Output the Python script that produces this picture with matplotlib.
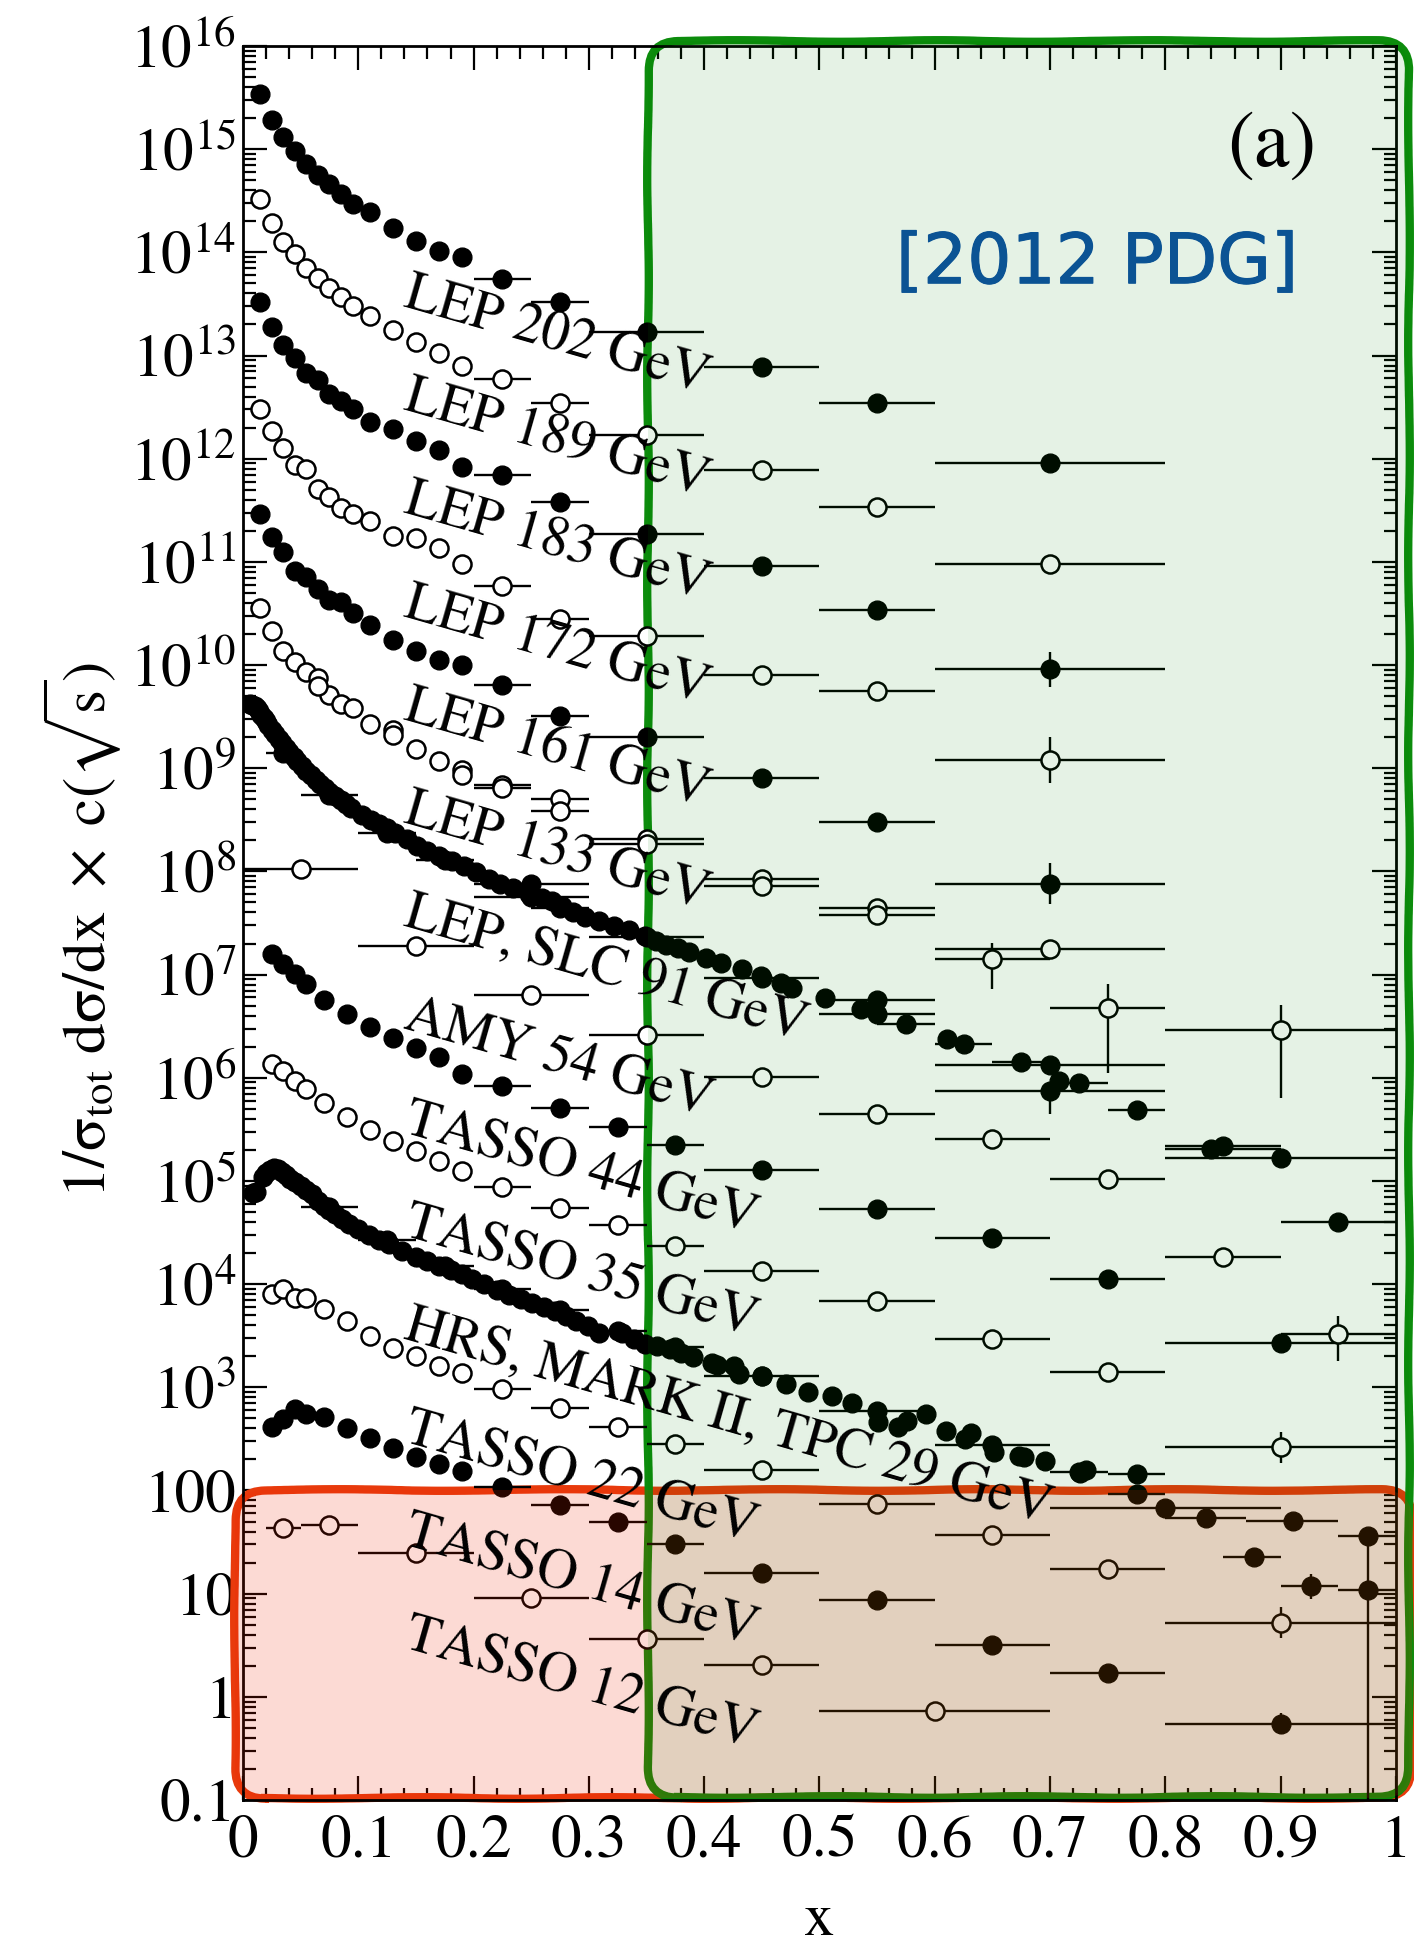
import numpy as np
import matplotlib
matplotlib.use('Agg')
import matplotlib.pyplot as plt
import matplotlib.patheffects as pe
from matplotlib.patches import FancyBboxPatch
from matplotlib.ticker import FixedLocator, FuncFormatter, MultipleLocator, LogLocator, NullFormatter

plt.rcParams['font.family'] = 'STIXGeneral'
plt.rcParams['mathtext.fontset'] = 'stix'

# all y values are log10 of 1/sigma dsigma/dx * c(sqrt s)

# LEP high energy runs: fine bins below x=0.2, then wide bins
x_lep = [0.015, 0.025, 0.035, 0.045, 0.055, 0.065, 0.075, 0.085, 0.095, 0.11, 0.13, 0.15, 0.17, 0.19]
x_lep_bin = [0.225, 0.275, 0.35, 0.45, 0.55, 0.7]
lep_bin_lo = [0.2, 0.25, 0.3, 0.4, 0.5, 0.6]
lep_bin_hi = [0.25, 0.3, 0.4, 0.5, 0.6, 0.8]

lep202 = [15.53, 15.28, 15.12, 14.98, 14.86, 14.75, 14.66, 14.57, 14.47, 14.39, 14.24, 14.11, 14.01, 13.95]
lep202_bin = [13.74, 13.52, 13.23, 12.89, 12.54, 11.96]
lep202_err = [0, 0, 0, 0, 0, 0.04]

lep189 = [14.52, 14.28, 14.10, 13.98, 13.85, 13.75, 13.65, 13.57, 13.48, 13.38, 13.25, 13.13, 13.02, 12.90]
lep189_bin = [12.77, 12.54, 12.23, 11.89, 11.53, 10.98]
lep189_err = [0, 0, 0, 0, 0, 0.04]

lep183 = [13.52, 13.28, 13.10, 12.98, 12.83, 12.76, 12.63, 12.56, 12.48, 12.36, 12.29, 12.17, 12.08, 11.92]
lep183_bin = [11.84, 11.58, 11.27, 10.96, 10.53, 9.96]
lep183_err = [0, 0, 0, 0, 0.04, 0.17]

lep172 = [12.48, 12.27, 12.10, 11.94, 11.90, 11.71, 11.63, 11.52, 11.46, 11.40, 11.25, 11.23, 11.13, 10.98]
lep172_bin = [10.77, 10.45, 10.28, 9.90, 9.75, 9.08]
lep172_err = [0, 0, 0, 0.05, 0.05, 0.22]

lep161 = [11.46, 11.24, 11.10, 10.91, 10.85, 10.74, 10.63, 10.61, 10.50, 10.39, 10.24, 10.14, 10.05, 10.00]
lep161_bin = [9.81, 9.51, 9.30, 8.91, 8.48, 7.88]
lep161_err = [0, 0, 0, 0, 0.05, 0.2]

lep133 = [10.55, 10.33, 10.14, 10.03, 9.93, 9.87, 9.71, 9.62, 9.58, 9.43, 9.37, 9.19, 9.07, 8.98]
lep133_bin = [8.84, 8.70, 8.31, 7.93, 7.65, 7.25]
lep133_err = [0, 0, 0, 0, 0.04, 0.04]

# second 133 GeV data set
x_lep133b = [0.065, 0.13, 0.19]
lep133b = [9.80, 9.32, 8.93]
x_lep133b_bin = [0.225, 0.275, 0.35, 0.45, 0.55, 0.65, 0.75, 0.9]
lep133b_lo = [0.2, 0.25, 0.3, 0.4, 0.5, 0.6, 0.7, 0.8]
lep133b_hi = [0.25, 0.3, 0.4, 0.5, 0.6, 0.7, 0.8, 1.0]
lep133b_bin = [8.81, 8.59, 8.27, 7.86, 7.58, 7.15, 6.68, 6.46]
lep133b_dn = [0, 0, 0, 0, 0.05, 0.29, 0.63, 0.66]
lep133b_up = [0, 0, 0, 0, 0.05, 0.16, 0.23, 0.25]

# LEP, SLC 91 GeV
x_lep91 = [0.006, 0.008, 0.010, 0.012, 0.014, 0.016, 0.018, 0.020, 0.022, 0.025, 0.028, 0.031,
           0.034, 0.037, 0.040, 0.044, 0.047, 0.051, 0.055, 0.059, 0.063, 0.067, 0.071, 0.075,
           0.080, 0.085, 0.089, 0.094, 0.103, 0.111, 0.118, 0.125, 0.132, 0.142, 0.151, 0.160,
           0.170, 0.181, 0.192, 0.202, 0.213, 0.223, 0.234, 0.248, 0.259, 0.268, 0.277, 0.286,
           0.297, 0.309, 0.322, 0.335, 0.349, 0.358, 0.367, 0.377, 0.387, 0.402, 0.415, 0.433,
           0.449, 0.467, 0.476, 0.505, 0.536, 0.611, 0.708]
lep91 = [9.62, 9.61, 9.60, 9.58, 9.55, 9.52, 9.49, 9.46, 9.42, 9.37, 9.33, 9.28,
         9.24, 9.20, 9.16, 9.11, 9.07, 9.02, 8.97, 8.93, 8.89, 8.85, 8.81, 8.77,
         8.73, 8.69, 8.65, 8.61, 8.55, 8.50, 8.46, 8.42, 8.37, 8.31, 8.25, 8.20,
         8.15, 8.10, 8.05, 7.99, 7.93, 7.88, 7.84, 7.78, 7.74, 7.71, 7.66, 7.61,
         7.56, 7.52, 7.47, 7.43, 7.37, 7.33, 7.29, 7.26, 7.22, 7.16, 7.11, 7.05,
         6.99, 6.92, 6.87, 6.77, 6.67, 6.38, 5.97]
x_lep91_bin = [0.035, 0.075, 0.125, 0.175, 0.25, 0.25, 0.275, 0.35, 0.45, 0.55, 0.55, 0.575,
               0.625, 0.675, 0.7, 0.7, 0.725, 0.775, 0.84, 0.85, 0.9, 0.95]
lep91_lo = [0.02, 0.05, 0.1, 0.15, 0.2, 0.2, 0.25, 0.3, 0.4, 0.5, 0.5, 0.55,
            0.6, 0.65, 0.6, 0.6, 0.7, 0.75, 0.8, 0.8, 0.8, 0.9]
lep91_hi = [0.05, 0.1, 0.15, 0.2, 0.3, 0.3, 0.3, 0.4, 0.5, 0.6, 0.6, 0.6,
            0.65, 0.7, 0.8, 0.8, 0.75, 0.8, 0.9, 0.9, 1.0, 1.0]
lep91_bin = [9.15, 8.74, 8.37, 8.11, 7.88, 7.75, 7.65, 7.36, 6.97, 6.75, 6.62, 6.52,
             6.33, 6.15, 6.12, 5.87, 5.95, 5.69, 5.31, 5.34, 5.22, 4.60]
lep91_dn = [0, 0, 0, 0, 0, 0, 0, 0, 0, 0.03, 0, 0, 0, 0, 0.06, 0.22, 0, 0, 0, 0, 0.04, 0.03]
lep91_up = [0, 0, 0, 0, 0, 0, 0, 0, 0, 0.06, 0, 0, 0, 0, 0.06, 0.05, 0, 0, 0, 0, 0.04, 0.03]

# AMY 54 GeV
x_amy = [0.05, 0.15, 0.25, 0.35, 0.45, 0.55, 0.65, 0.75, 0.85, 0.95]
amy = [8.02, 7.28, 6.80, 6.41, 6.01, 5.65, 5.41, 5.02, 4.26, 3.52]
amy_dn = [0, 0, 0, 0, 0, 0, 0, 0, 0.03, 0.27]
amy_up = [0, 0, 0, 0, 0, 0, 0, 0, 0.03, 0.17]

# TASSO
x_tasso = [0.025, 0.035, 0.045, 0.055, 0.07, 0.09, 0.11, 0.13, 0.15, 0.17, 0.19]
x_tasso_bin = [0.225, 0.275, 0.325, 0.375, 0.45, 0.55, 0.65, 0.75, 0.9]
tasso_lo = [0.2, 0.25, 0.3, 0.35, 0.4, 0.5, 0.6, 0.7, 0.8]
tasso_hi = [0.25, 0.3, 0.35, 0.4, 0.5, 0.6, 0.7, 0.8, 1.0]

tasso44 = [7.20, 7.10, 7.01, 6.91, 6.75, 6.62, 6.49, 6.39, 6.29, 6.20, 6.04]
tasso44_bin = [5.92, 5.71, 5.52, 5.35, 5.11, 4.73, 4.45, 4.05, 3.43]
tasso44_err = [0, 0, 0, 0, 0, 0, 0, 0, 0.04]

tasso35 = [6.13, 6.07, 5.97, 5.89, 5.76, 5.62, 5.49, 5.39, 5.29, 5.19, 5.10]
tasso35_bin = [4.94, 4.74, 4.57, 4.37, 4.13, 3.84, 3.47, 3.15, 2.42]
tasso35_err = [0, 0, 0, 0, 0, 0, 0, 0.03, 0.15]

tasso22 = [3.90, 3.95, 3.87, 3.87, 3.76, 3.64, 3.50, 3.38, 3.30, 3.21, 3.14]
tasso22_bin = [2.98, 2.80, 2.62, 2.45, 2.20, 1.87, 1.57, 1.24, 0.72]
tasso22_err = [0, 0, 0, 0, 0, 0, 0.04, 0.04, 0.15]

tasso14 = [2.62, 2.69, 2.79, 2.74, 2.71, 2.61, 2.51, 2.41, 2.32, 2.26, 2.19]
tasso14_bin = [2.03, 1.86, 1.69, 1.48, 1.20, 0.94, 0.50, 0.23, -0.26]
tasso14_err = [0, 0, 0, 0, 0, 0, 0, 0.04, 0.1]

x_tasso12 = [0.035, 0.075, 0.15, 0.25, 0.35, 0.45, 0.6]
tasso12_lo = [0.02, 0.05, 0.1, 0.2, 0.3, 0.4, 0.5]
tasso12_hi = [0.05, 0.1, 0.2, 0.3, 0.4, 0.5, 0.7]
tasso12 = [1.64, 1.67, 1.39, 0.96, 0.56, 0.31, -0.14]

# HRS, MARK II, TPC 29 GeV
x_hrs = [0.009, 0.011, 0.017, 0.020, 0.023, 0.027, 0.030, 0.034, 0.037, 0.041, 0.045, 0.050,
         0.055, 0.060, 0.065, 0.070, 0.075, 0.080, 0.086, 0.092, 0.100, 0.109, 0.118, 0.127,
         0.138, 0.150, 0.160, 0.170, 0.180, 0.190, 0.199, 0.209, 0.220, 0.231, 0.241, 0.251,
         0.261, 0.271, 0.280, 0.289, 0.299, 0.309, 0.329, 0.339, 0.349, 0.359, 0.370, 0.380,
         0.390, 0.407, 0.411, 0.426, 0.430, 0.450, 0.471, 0.490, 0.511, 0.528, 0.551, 0.568,
         0.576, 0.592, 0.610, 0.626, 0.631, 0.651, 0.673, 0.677, 0.696, 0.726, 0.731]
hrs = [4.88, 4.89, 5.04, 5.08, 5.11, 5.13, 5.12, 5.09, 5.06, 5.02, 4.99, 4.95,
       4.91, 4.87, 4.81, 4.76, 4.72, 4.68, 4.63, 4.58, 4.53, 4.48, 4.43, 4.39,
       4.32, 4.26, 4.22, 4.18, 4.14, 4.10, 4.05, 4.00, 3.94, 3.89, 3.86, 3.82,
       3.78, 3.74, 3.69, 3.64, 3.59, 3.53, 3.53, 3.47, 3.42, 3.40, 3.37, 3.33,
       3.29, 3.24, 3.22, 3.21, 3.13, 3.11, 3.03, 2.95, 2.92, 2.85, 2.66, 2.62,
       2.67, 2.74, 2.58, 2.50, 2.56, 2.37, 2.33, 2.32, 2.29, 2.17, 2.20]
x_hrs_bin = [0.075, 0.125, 0.175, 0.225, 0.275, 0.325, 0.375, 0.45, 0.55, 0.65, 0.725,
             0.775, 0.775, 0.8, 0.835, 0.911, 0.877, 0.926, 0.976, 0.976]
hrs_lo = [0.05, 0.1, 0.15, 0.2, 0.25, 0.3, 0.35, 0.4, 0.5, 0.6, 0.7,
          0.75, 0.75, 0.7, 0.8, 0.87, 0.85, 0.9, 0.95, 0.95]
hrs_hi = [0.1, 0.15, 0.2, 0.25, 0.3, 0.35, 0.4, 0.5, 0.6, 0.7, 0.75,
          0.8, 0.8, 0.9, 0.87, 0.95, 0.9, 0.95, 1.0, 1.0]
hrs_bin = [4.75, 4.43, 4.18, 3.95, 3.75, 3.55, 3.39, 3.11, 2.77, 2.44, 2.18,
           2.16, 1.97, 1.83, 1.73, 1.70, 1.36, 1.07, 1.56, 1.04]
hrs_dn = [0, 0, 0, 0, 0, 0, 0, 0, 0, 0, 0, 0, 0, 0, 0.04, 0.04, 0.08, 0.12, 3.0, 0.04]
hrs_up = [0, 0, 0, 0, 0, 0, 0, 0, 0, 0, 0, 0, 0, 0, 0.04, 0.04, 0.08, 0.12, 0.0, 0.04]

labels = ['LEP 202 GeV', 'LEP 189 GeV', 'LEP 183 GeV', 'LEP 172 GeV', 'LEP 161 GeV',
          'LEP 133 GeV', 'LEP, SLC 91 GeV', 'AMY 54 GeV', 'TASSO 44 GeV', 'TASSO 35 GeV',
          'HRS, MARK II, TPC 29 GeV', 'TASSO 22 GeV', 'TASSO 14 GeV', 'TASSO 12 GeV']
label_decade = [13, 12, 11, 10, 9, 8, 7, 6, 5, 4, 3, 2, 1, 0]


def draw(ax, x, logy, filled, xlo=None, xhi=None, dn=None, up=None):
    x = np.asarray(x, float)
    logy = np.asarray(logy, float)
    y = 10.0 ** logy
    xerr = None
    if xlo is not None:
        xerr = [x - np.asarray(xlo), np.asarray(xhi) - x]
    yerr = None
    if dn is not None:
        yerr = [y - 10.0 ** (logy - np.asarray(dn)), 10.0 ** (logy + np.asarray(up)) - y]
    if filled:
        ax.errorbar(x, y, xerr=xerr, yerr=yerr, fmt='o', ms=13.5, mfc='black', mec='black',
                    ecolor='black', elinewidth=1.7, capsize=0, zorder=3)
    else:
        ax.errorbar(x, y, xerr=xerr, yerr=yerr, fmt='o', ms=13, mfc='white', mec='black',
                    mew=1.8, ecolor='black', elinewidth=1.7, capsize=0, zorder=3)


fig = plt.figure(figsize=(14.14, 19.5), dpi=100)
ax = fig.add_axes([0.17185, 0.07692, 0.8154, 0.8995])
ax.set_yscale('log')

lep_runs = [(lep202, lep202_bin, lep202_err, True),
            (lep189, lep189_bin, lep189_err, False),
            (lep183, lep183_bin, lep183_err, True),
            (lep172, lep172_bin, lep172_err, False),
            (lep161, lep161_bin, lep161_err, True),
            (lep133, lep133_bin, lep133_err, False)]
for fine, wide, err, filled in lep_runs:
    draw(ax, x_lep, fine, filled)
    draw(ax, x_lep_bin, wide, filled, lep_bin_lo, lep_bin_hi, err, err)

draw(ax, x_lep133b, lep133b, False)
draw(ax, x_lep133b_bin, lep133b_bin, False, lep133b_lo, lep133b_hi, lep133b_dn, lep133b_up)

draw(ax, x_lep91, lep91, True)
draw(ax, x_lep91_bin, lep91_bin, True, lep91_lo, lep91_hi, lep91_dn, lep91_up)

amy_lo = [v - 0.05 for v in x_amy]
amy_hi = [v + 0.05 for v in x_amy]
draw(ax, x_amy, amy, False, amy_lo, amy_hi, amy_dn, amy_up)

tasso_runs = [(tasso44, tasso44_bin, tasso44_err, True),
              (tasso35, tasso35_bin, tasso35_err, False),
              (tasso22, tasso22_bin, tasso22_err, False),
              (tasso14, tasso14_bin, tasso14_err, True)]
for fine, wide, err, filled in tasso_runs:
    draw(ax, x_tasso, fine, filled)
    draw(ax, x_tasso_bin, wide, filled, tasso_lo, tasso_hi, err, err)

draw(ax, x_tasso12, tasso12, False, tasso12_lo, tasso12_hi)

draw(ax, x_hrs, hrs, True)
draw(ax, x_hrs_bin, hrs_bin, True, hrs_lo, hrs_hi, hrs_dn, hrs_up)

for lab, k in zip(labels, label_decade):
    ax.text(0.147, 10.0 ** (k + 0.84), lab, fontsize=40, rotation=-16,
            rotation_mode='anchor', ha='left', va='top', zorder=6)

ax.text(0.892, 10 ** 15.02, '(a)', fontsize=58, ha='center', va='center', zorder=6)
ax.text(0.741, 10 ** 13.89, '[2012 PDG]', fontsize=50, family='DejaVu Sans',
        color='#0b5394', ha='center', va='center', zorder=6,
        path_effects=[pe.withStroke(linewidth=0.8, foreground='#0b5394')])

ax.set_xlim(0, 1)
ax.set_ylim(0.1, 1e16)

ax.xaxis.set_major_locator(MultipleLocator(0.1))
ax.xaxis.set_minor_locator(MultipleLocator(0.02))
ax.xaxis.set_major_formatter(FuncFormatter(lambda v, p: '%g' % round(v, 1)))

ax.yaxis.set_major_locator(FixedLocator(10.0 ** np.arange(-1, 17)))
ax.yaxis.set_minor_locator(LogLocator(base=10, subs=np.arange(2, 10), numticks=40))
ax.yaxis.set_minor_formatter(NullFormatter())


def yfmt(v, pos):
    e = int(round(np.log10(v)))
    if e >= 3:
        return r'$\mathdefault{10^{%d}}$' % e
    return {2: '100', 1: '10', 0: '1', -1: '0.1'}[e]


ax.yaxis.set_major_formatter(FuncFormatter(yfmt))
ax.tick_params(which='both', direction='in', top=True, right=True, width=1.6)
ax.tick_params(which='major', length=17, labelsize=44)
ax.tick_params(which='minor', length=9)
ax.tick_params(axis='y', pad=5)
ax.tick_params(axis='x', pad=11)
for s in ax.spines.values():
    s.set_linewidth(2)

fig.text(0.5796, 0.0149, 'x', fontsize=44, ha='center', va='center')
fig.text(0.058, 0.523, r'$\mathrm{1/\sigma_{tot}\ d\sigma/dx\ \times\ c(\sqrt{s})}$',
         fontsize=44, rotation=90, ha='center', va='center')

# highlight boxes, in inches so the corners stay round
tr = fig.dpi_scale_trans
boxes = [((2.35, 1.52), 14.12 - 2.35, 4.60 - 1.52, '#e83a0c', (243 / 255, 37 / 255, 2 / 255), 0.17, 4),
         ((6.48, 1.53), 14.09 - 6.48, 19.09 - 1.53, '#0c8c0c', (0, 128 / 255, 0), 0.10, 5)]
for xy, w, h, ec, fc, alpha, z in boxes:
    for lw, rnd in [(6, 3), (3, 5)]:
        edge = FancyBboxPatch(xy, w, h, boxstyle='round,pad=0,rounding_size=0.3', transform=tr,
                              fill=False, ec=ec, lw=lw, zorder=2, clip_on=False)
        edge.set_sketch_params(scale=0.8, length=250, randomness=rnd)
        ax.add_artist(edge)
    fill = FancyBboxPatch(xy, w, h, boxstyle='round,pad=0,rounding_size=0.3', transform=tr,
                          fc=fc, ec='none', alpha=alpha, zorder=z, clip_on=False)
    ax.add_artist(fill)

fig.savefig('out.png', dpi=100)
